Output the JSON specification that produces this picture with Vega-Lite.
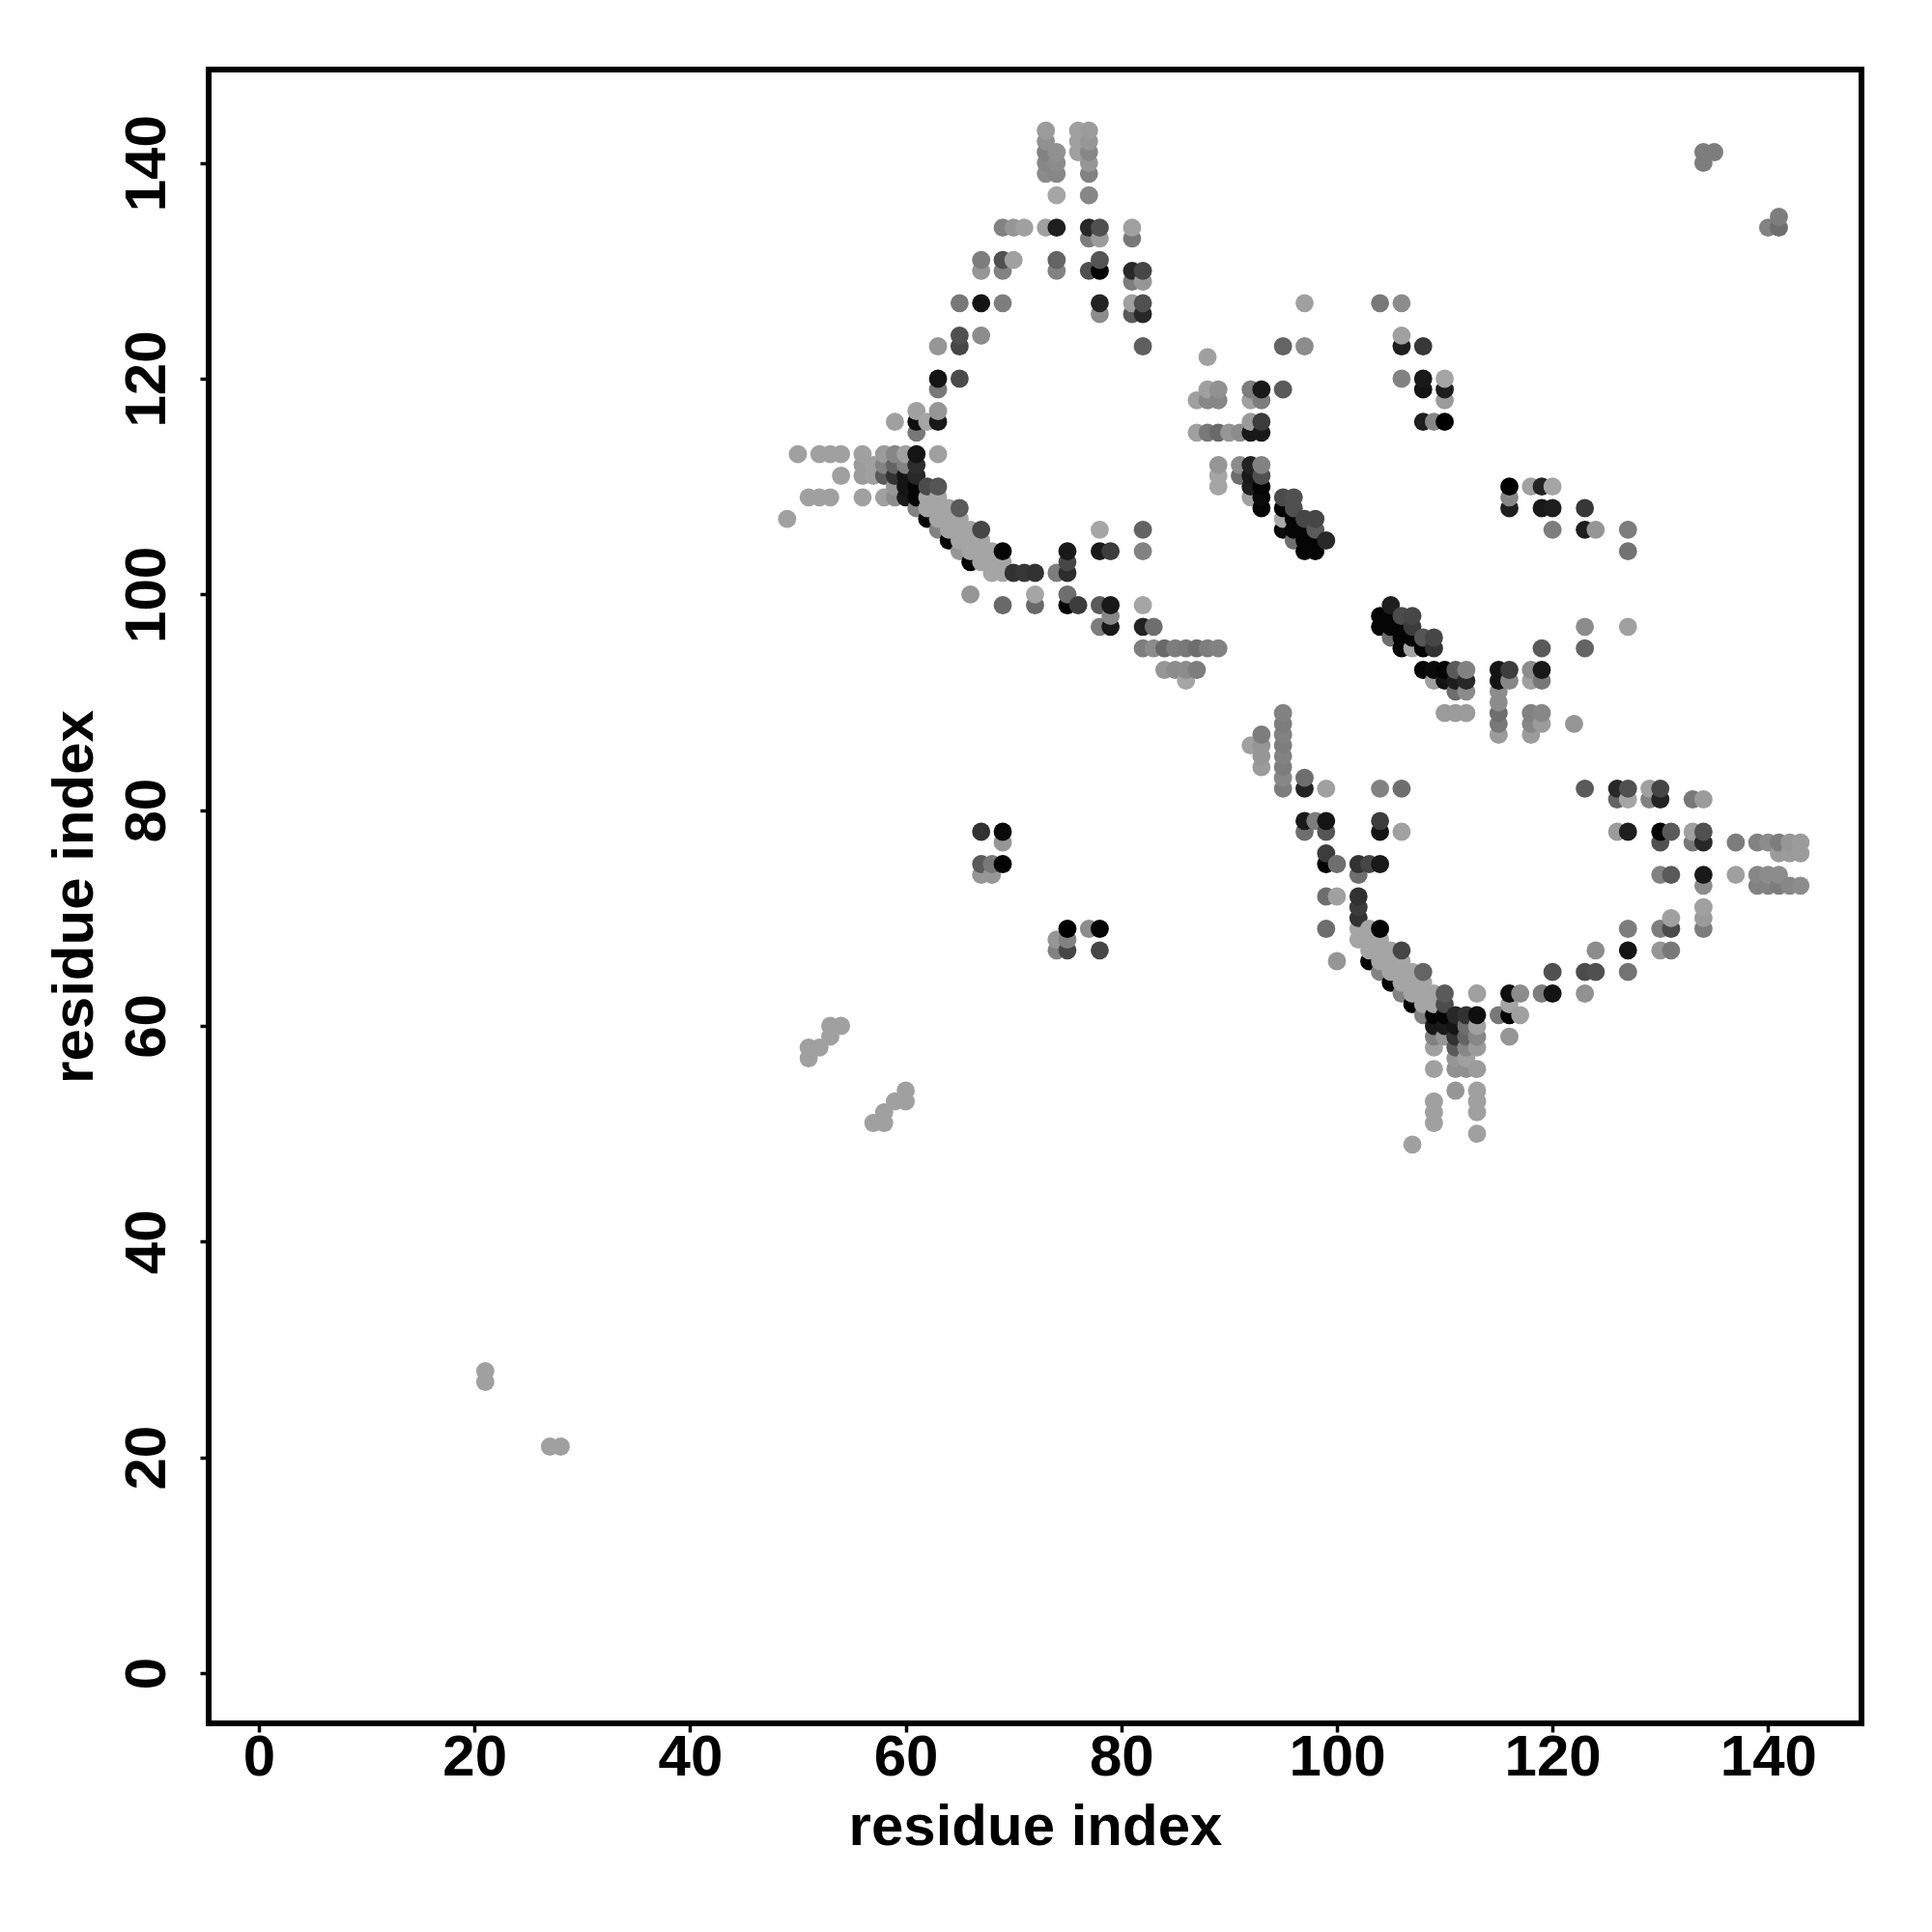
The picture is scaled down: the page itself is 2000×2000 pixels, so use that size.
{"$schema":"https://vega.github.io/schema/vega-lite/v6.json","width":1711,"height":1712,"autosize":{"type":"none"},"padding":{"left":216,"top":72,"right":73,"bottom":216},"background":"white",
"view":{"stroke":"black","strokeWidth":6,"fill":"white"},
"config":{"style":{"cell":{"stroke":"black","strokeWidth":6}}},
"datasets":{"pts":[
{"x":21,"y":27,"g":160},{"x":21,"y":28,"g":160},{"x":27,"y":21,"g":160},{"x":28,"y":21,"g":160},{"x":49,"y":107,"g":160},{"x":50,"y":113,"g":160},
{"x":51,"y":57,"g":160},{"x":51,"y":58,"g":160},{"x":51,"y":109,"g":160},{"x":52,"y":58,"g":160},{"x":52,"y":109,"g":160},{"x":52,"y":113,"g":160},
{"x":53,"y":59,"g":160},{"x":53,"y":60,"g":160},{"x":53,"y":109,"g":160},{"x":53,"y":113,"g":160},{"x":54,"y":60,"g":160},{"x":54,"y":111,"g":160},{"x":54,"y":113,"g":160},
{"x":56,"y":109,"g":160},{"x":56,"y":111,"g":155},{"x":56,"y":112,"g":155},{"x":56,"y":113,"g":160},{"x":57,"y":51,"g":160},{"x":57,"y":111,"g":160},{"x":57,"y":112,"g":160},
{"x":58,"y":51,"g":160},{"x":58,"y":52,"g":160},{"x":58,"y":109,"g":160},{"x":58,"y":111,"g":90},{"x":58,"y":112,"g":130},{"x":58,"y":113,"g":155},
{"x":59,"y":53,"g":160},{"x":59,"y":109,"g":140},{"x":59,"y":110,"g":150},{"x":59,"y":111,"g":50},{"x":59,"y":112,"g":100},{"x":59,"y":113,"g":135},{"x":59,"y":116,"g":160},
{"x":60,"y":53,"g":160},{"x":60,"y":54,"g":160},{"x":60,"y":109,"g":25},{"x":60,"y":110,"g":20},{"x":60,"y":111,"g":20},{"x":60,"y":112,"g":130},{"x":60,"y":113,"g":160},
{"x":61,"y":108,"g":130},{"x":61,"y":109,"g":5},{"x":61,"y":110,"g":5},{"x":61,"y":111,"g":40},{"x":61,"y":112,"g":45},{"x":61,"y":113,"g":20},{"x":61,"y":115,"g":120},{"x":61,"y":116,"g":15},{"x":61,"y":117,"g":160},
{"x":62,"y":107,"g":5},{"x":62,"y":108,"g":165},{"x":62,"y":109,"g":165},{"x":62,"y":110,"g":75},{"x":62,"y":116,"g":165},
{"x":63,"y":106,"g":130},{"x":63,"y":107,"g":165},{"x":63,"y":108,"g":165},{"x":63,"y":109,"g":165},{"x":63,"y":110,"g":85},{"x":63,"y":113,"g":160},{"x":63,"y":116,"g":25},{"x":63,"y":117,"g":150},{"x":63,"y":119,"g":120},{"x":63,"y":120,"g":20},{"x":63,"y":123,"g":150},
{"x":64,"y":105,"g":5},{"x":64,"y":106,"g":165},{"x":64,"y":107,"g":165},{"x":64,"y":108,"g":165},
{"x":65,"y":104,"g":150},{"x":65,"y":105,"g":165},{"x":65,"y":106,"g":165},{"x":65,"y":107,"g":165},{"x":65,"y":108,"g":90},{"x":65,"y":120,"g":75},{"x":65,"y":123,"g":70},{"x":65,"y":124,"g":80},{"x":65,"y":127,"g":120},
{"x":66,"y":100,"g":150},{"x":66,"y":103,"g":5},{"x":66,"y":104,"g":165},{"x":66,"y":105,"g":165},{"x":66,"y":106,"g":165},
{"x":67,"y":74,"g":150},{"x":67,"y":75,"g":90},{"x":67,"y":78,"g":50},{"x":67,"y":103,"g":165},{"x":67,"y":104,"g":165},{"x":67,"y":105,"g":165},{"x":67,"y":106,"g":70},{"x":67,"y":124,"g":140},{"x":67,"y":127,"g":20},{"x":67,"y":130,"g":150},{"x":67,"y":131,"g":125},
{"x":68,"y":74,"g":150},{"x":68,"y":75,"g":120},{"x":68,"y":102,"g":165},{"x":68,"y":103,"g":165},{"x":68,"y":104,"g":165},
{"x":69,"y":75,"g":0},{"x":69,"y":77,"g":150},{"x":69,"y":78,"g":10},{"x":69,"y":99,"g":105},{"x":69,"y":102,"g":165},{"x":69,"y":103,"g":165},{"x":69,"y":104,"g":5},{"x":69,"y":127,"g":125},{"x":69,"y":130,"g":130},{"x":69,"y":131,"g":80},{"x":69,"y":134,"g":130},
{"x":70,"y":102,"g":50},{"x":70,"y":131,"g":160},{"x":70,"y":134,"g":150},{"x":71,"y":102,"g":55},{"x":71,"y":134,"g":160},
{"x":72,"y":99,"g":105},{"x":72,"y":100,"g":165},{"x":72,"y":102,"g":50},
{"x":73,"y":134,"g":160},{"x":73,"y":139,"g":140},{"x":73,"y":140,"g":135},{"x":73,"y":141,"g":130},{"x":73,"y":142,"g":145},{"x":73,"y":143,"g":155},
{"x":74,"y":67,"g":130},{"x":74,"y":68,"g":150},{"x":74,"y":102,"g":125},{"x":74,"y":130,"g":130},{"x":74,"y":131,"g":100},{"x":74,"y":134,"g":30},{"x":74,"y":137,"g":165},{"x":74,"y":139,"g":135},{"x":74,"y":140,"g":140},{"x":74,"y":141,"g":145},
{"x":75,"y":67,"g":70},{"x":75,"y":68,"g":130},{"x":75,"y":69,"g":0},{"x":75,"y":99,"g":5},{"x":75,"y":100,"g":110},{"x":75,"y":102,"g":45},{"x":75,"y":103,"g":70},{"x":75,"y":104,"g":25},
{"x":76,"y":99,"g":60},{"x":76,"y":141,"g":160},{"x":76,"y":142,"g":160},{"x":76,"y":143,"g":160},
{"x":77,"y":69,"g":140},{"x":77,"y":130,"g":80},{"x":77,"y":133,"g":125},{"x":77,"y":134,"g":40},{"x":77,"y":137,"g":135},{"x":77,"y":139,"g":130},{"x":77,"y":140,"g":150},{"x":77,"y":141,"g":135},{"x":77,"y":142,"g":150},{"x":77,"y":143,"g":155},
{"x":78,"y":67,"g":70},{"x":78,"y":69,"g":5},{"x":78,"y":97,"g":125},{"x":78,"y":99,"g":90},{"x":78,"y":104,"g":25},{"x":78,"y":106,"g":165},{"x":78,"y":126,"g":140},{"x":78,"y":127,"g":35},{"x":78,"y":130,"g":5},{"x":78,"y":131,"g":85},{"x":78,"y":133,"g":155},{"x":78,"y":134,"g":80},
{"x":79,"y":97,"g":25},{"x":79,"y":98,"g":135},{"x":79,"y":99,"g":25},{"x":79,"y":104,"g":60},
{"x":81,"y":126,"g":90},{"x":81,"y":127,"g":160},{"x":81,"y":129,"g":125},{"x":81,"y":130,"g":40},{"x":81,"y":133,"g":120},{"x":81,"y":134,"g":160},
{"x":82,"y":95,"g":125},{"x":82,"y":97,"g":35},{"x":82,"y":99,"g":165},{"x":82,"y":104,"g":130},{"x":82,"y":106,"g":100},{"x":82,"y":123,"g":95},{"x":82,"y":126,"g":40},{"x":82,"y":127,"g":80},{"x":82,"y":129,"g":150},{"x":82,"y":130,"g":70},
{"x":83,"y":95,"g":140},{"x":83,"y":97,"g":110},{"x":84,"y":93,"g":150},{"x":84,"y":95,"g":105},{"x":85,"y":93,"g":140},{"x":85,"y":95,"g":125},{"x":86,"y":92,"g":165},{"x":86,"y":93,"g":140},{"x":86,"y":95,"g":120},
{"x":87,"y":93,"g":125},{"x":87,"y":95,"g":110},{"x":87,"y":115,"g":160},{"x":87,"y":118,"g":160},{"x":88,"y":95,"g":125},{"x":88,"y":115,"g":120},{"x":88,"y":118,"g":135},{"x":88,"y":119,"g":160},{"x":88,"y":122,"g":160},
{"x":89,"y":95,"g":130},{"x":89,"y":110,"g":165},{"x":89,"y":111,"g":165},{"x":89,"y":112,"g":150},{"x":89,"y":115,"g":105},{"x":89,"y":118,"g":135},{"x":89,"y":119,"g":145},{"x":90,"y":115,"g":150},{"x":91,"y":111,"g":110},{"x":91,"y":112,"g":140},{"x":91,"y":115,"g":140},
{"x":92,"y":86,"g":160},{"x":92,"y":109,"g":160},{"x":92,"y":110,"g":30},{"x":92,"y":111,"g":25},{"x":92,"y":112,"g":35},{"x":92,"y":115,"g":25},{"x":92,"y":116,"g":155},{"x":92,"y":118,"g":160},{"x":92,"y":119,"g":125},
{"x":93,"y":84,"g":155},{"x":93,"y":85,"g":150},{"x":93,"y":86,"g":150},{"x":93,"y":87,"g":125},{"x":93,"y":108,"g":5},{"x":93,"y":109,"g":10},{"x":93,"y":110,"g":5},{"x":93,"y":111,"g":80},{"x":93,"y":112,"g":130},{"x":93,"y":115,"g":25},{"x":93,"y":116,"g":60},{"x":93,"y":118,"g":125},{"x":93,"y":119,"g":25},
{"x":95,"y":82,"g":125},{"x":95,"y":83,"g":135},{"x":95,"y":84,"g":125},{"x":95,"y":85,"g":130},{"x":95,"y":86,"g":125},{"x":95,"y":87,"g":130},{"x":95,"y":88,"g":125},{"x":95,"y":89,"g":130},{"x":95,"y":106,"g":10},{"x":95,"y":107,"g":170},{"x":95,"y":108,"g":5},{"x":95,"y":109,"g":75},{"x":95,"y":119,"g":90},{"x":95,"y":123,"g":100},
{"x":96,"y":105,"g":110},{"x":96,"y":106,"g":5},{"x":96,"y":107,"g":5},{"x":96,"y":108,"g":80},{"x":96,"y":109,"g":80},
{"x":97,"y":78,"g":110},{"x":97,"y":79,"g":25},{"x":97,"y":82,"g":35},{"x":97,"y":83,"g":110},{"x":97,"y":104,"g":5},{"x":97,"y":105,"g":5},{"x":97,"y":106,"g":5},{"x":97,"y":107,"g":70},{"x":97,"y":123,"g":140},{"x":97,"y":127,"g":160},
{"x":98,"y":79,"g":125},{"x":98,"y":104,"g":5},{"x":98,"y":105,"g":5},{"x":98,"y":106,"g":90},{"x":98,"y":107,"g":70},
{"x":99,"y":69,"g":110},{"x":99,"y":72,"g":110},{"x":99,"y":75,"g":0},{"x":99,"y":76,"g":60},{"x":99,"y":78,"g":85},{"x":99,"y":79,"g":20},{"x":99,"y":82,"g":160},{"x":99,"y":105,"g":40},
{"x":100,"y":66,"g":150},{"x":100,"y":72,"g":160},{"x":100,"y":75,"g":110},
{"x":102,"y":68,"g":165},{"x":102,"y":69,"g":165},{"x":102,"y":70,"g":50},{"x":102,"y":71,"g":60},{"x":102,"y":72,"g":50},{"x":102,"y":74,"g":110},{"x":102,"y":75,"g":50},
{"x":103,"y":66,"g":0},{"x":103,"y":67,"g":165},{"x":103,"y":68,"g":165},{"x":103,"y":69,"g":165},{"x":103,"y":75,"g":70},
{"x":104,"y":65,"g":130},{"x":104,"y":66,"g":165},{"x":104,"y":67,"g":165},{"x":104,"y":68,"g":165},{"x":104,"y":69,"g":5},{"x":104,"y":75,"g":25},{"x":104,"y":78,"g":20},{"x":104,"y":79,"g":60},{"x":104,"y":82,"g":130},{"x":104,"y":97,"g":5},{"x":104,"y":98,"g":5},{"x":104,"y":127,"g":120},
{"x":105,"y":64,"g":0},{"x":105,"y":65,"g":165},{"x":105,"y":66,"g":165},{"x":105,"y":67,"g":165},{"x":105,"y":96,"g":110},{"x":105,"y":97,"g":5},{"x":105,"y":98,"g":5},{"x":105,"y":99,"g":30},
{"x":106,"y":63,"g":130},{"x":106,"y":64,"g":165},{"x":106,"y":65,"g":165},{"x":106,"y":66,"g":165},{"x":106,"y":67,"g":70},{"x":106,"y":78,"g":160},{"x":106,"y":82,"g":110},{"x":106,"y":95,"g":5},{"x":106,"y":96,"g":5},{"x":106,"y":97,"g":5},{"x":106,"y":98,"g":75},{"x":106,"y":120,"g":130},{"x":106,"y":123,"g":30},{"x":106,"y":124,"g":160},{"x":106,"y":127,"g":140},
{"x":107,"y":49,"g":160},{"x":107,"y":62,"g":0},{"x":107,"y":63,"g":165},{"x":107,"y":64,"g":165},{"x":107,"y":65,"g":165},{"x":107,"y":95,"g":165},{"x":107,"y":96,"g":5},{"x":107,"y":97,"g":60},{"x":107,"y":98,"g":70},
{"x":108,"y":61,"g":130},{"x":108,"y":62,"g":165},{"x":108,"y":63,"g":165},{"x":108,"y":64,"g":165},{"x":108,"y":65,"g":100},{"x":108,"y":93,"g":5},{"x":108,"y":95,"g":5},{"x":108,"y":96,"g":85},{"x":108,"y":116,"g":30},{"x":108,"y":119,"g":20},{"x":108,"y":120,"g":25},{"x":108,"y":123,"g":55},
{"x":109,"y":51,"g":160},{"x":109,"y":52,"g":160},{"x":109,"y":53,"g":160},{"x":109,"y":56,"g":160},{"x":109,"y":58,"g":160},{"x":109,"y":59,"g":130},{"x":109,"y":60,"g":25},{"x":109,"y":61,"g":5},{"x":109,"y":62,"g":165},{"x":109,"y":63,"g":165},{"x":109,"y":92,"g":160},{"x":109,"y":93,"g":10},{"x":109,"y":95,"g":50},{"x":109,"y":96,"g":70},{"x":109,"y":116,"g":135},
{"x":110,"y":59,"g":150},{"x":110,"y":60,"g":25},{"x":110,"y":61,"g":5},{"x":110,"y":62,"g":75},{"x":110,"y":63,"g":90},{"x":110,"y":89,"g":155},{"x":110,"y":92,"g":20},{"x":110,"y":93,"g":5},{"x":110,"y":116,"g":0},{"x":110,"y":118,"g":155},{"x":110,"y":119,"g":30},{"x":110,"y":120,"g":165},
{"x":111,"y":54,"g":150},{"x":111,"y":56,"g":145},{"x":111,"y":57,"g":150},{"x":111,"y":58,"g":90},{"x":111,"y":59,"g":50},{"x":111,"y":60,"g":20},{"x":111,"y":61,"g":40},{"x":111,"y":89,"g":155},{"x":111,"y":91,"g":110},{"x":111,"y":92,"g":30},{"x":111,"y":93,"g":90},
{"x":112,"y":56,"g":145},{"x":112,"y":57,"g":160},{"x":112,"y":58,"g":135},{"x":112,"y":59,"g":100},{"x":112,"y":60,"g":110},{"x":112,"y":61,"g":50},{"x":112,"y":89,"g":155},{"x":112,"y":91,"g":140},{"x":112,"y":92,"g":40},{"x":112,"y":93,"g":130},
{"x":113,"y":50,"g":160},{"x":113,"y":52,"g":160},{"x":113,"y":53,"g":160},{"x":113,"y":54,"g":160},{"x":113,"y":56,"g":155},{"x":113,"y":58,"g":155},{"x":113,"y":59,"g":135},{"x":113,"y":60,"g":160},{"x":113,"y":61,"g":15},{"x":113,"y":63,"g":160},
{"x":115,"y":61,"g":120},{"x":115,"y":87,"g":155},{"x":115,"y":88,"g":120},{"x":115,"y":89,"g":110},{"x":115,"y":90,"g":140},{"x":115,"y":91,"g":140},{"x":115,"y":92,"g":20},{"x":115,"y":93,"g":20},
{"x":116,"y":59,"g":150},{"x":116,"y":61,"g":5},{"x":116,"y":62,"g":165},{"x":116,"y":63,"g":15},{"x":116,"y":92,"g":135},{"x":116,"y":93,"g":60},{"x":116,"y":108,"g":30},{"x":116,"y":109,"g":135},{"x":116,"y":110,"g":0},
{"x":117,"y":61,"g":160},{"x":117,"y":63,"g":140},
{"x":118,"y":87,"g":155},{"x":118,"y":88,"g":135},{"x":118,"y":89,"g":130},{"x":118,"y":92,"g":160},{"x":118,"y":93,"g":140},{"x":118,"y":110,"g":160},
{"x":119,"y":63,"g":125},{"x":119,"y":88,"g":155},{"x":119,"y":89,"g":135},{"x":119,"y":92,"g":120},{"x":119,"y":93,"g":25},{"x":119,"y":95,"g":90},{"x":119,"y":108,"g":25},{"x":119,"y":110,"g":35},
{"x":120,"y":63,"g":20},{"x":120,"y":65,"g":80},{"x":120,"y":106,"g":125},{"x":120,"y":108,"g":30},{"x":120,"y":110,"g":165},{"x":122,"y":88,"g":150},
{"x":123,"y":63,"g":145},{"x":123,"y":65,"g":75},{"x":123,"y":82,"g":90},{"x":123,"y":95,"g":100},{"x":123,"y":97,"g":140},{"x":123,"y":106,"g":30},{"x":123,"y":108,"g":55},
{"x":124,"y":65,"g":80},{"x":124,"y":67,"g":140},{"x":124,"y":106,"g":150},
{"x":126,"y":78,"g":155},{"x":126,"y":81,"g":100},{"x":126,"y":82,"g":40},
{"x":127,"y":65,"g":115},{"x":127,"y":67,"g":20},{"x":127,"y":69,"g":125},{"x":127,"y":78,"g":30},{"x":127,"y":81,"g":165},{"x":127,"y":82,"g":80},{"x":127,"y":97,"g":160},{"x":127,"y":104,"g":115},{"x":127,"y":106,"g":125},
{"x":129,"y":81,"g":130},{"x":129,"y":82,"g":160},
{"x":130,"y":67,"g":150},{"x":130,"y":69,"g":125},{"x":130,"y":74,"g":130},{"x":130,"y":77,"g":80},{"x":130,"y":78,"g":5},{"x":130,"y":81,"g":35},{"x":130,"y":82,"g":70},
{"x":131,"y":67,"g":120},{"x":131,"y":69,"g":75},{"x":131,"y":70,"g":160},{"x":131,"y":74,"g":90},{"x":131,"y":78,"g":90},
{"x":133,"y":77,"g":120},{"x":133,"y":78,"g":160},{"x":133,"y":81,"g":120},
{"x":134,"y":69,"g":125},{"x":134,"y":70,"g":155},{"x":134,"y":71,"g":160},{"x":134,"y":73,"g":140},{"x":134,"y":74,"g":25},{"x":134,"y":77,"g":40},{"x":134,"y":78,"g":80},{"x":134,"y":81,"g":155},{"x":134,"y":140,"g":125},{"x":134,"y":141,"g":125},{"x":135,"y":141,"g":125},
{"x":137,"y":74,"g":160},{"x":137,"y":77,"g":125},
{"x":139,"y":73,"g":130},{"x":139,"y":74,"g":135},{"x":139,"y":77,"g":130},
{"x":140,"y":73,"g":130},{"x":140,"y":74,"g":140},{"x":140,"y":77,"g":140},{"x":140,"y":134,"g":130},
{"x":141,"y":73,"g":125},{"x":141,"y":74,"g":140},{"x":141,"y":76,"g":155},{"x":141,"y":77,"g":125},{"x":141,"y":134,"g":110},{"x":141,"y":135,"g":125},
{"x":142,"y":73,"g":135},{"x":142,"y":76,"g":155},{"x":142,"y":77,"g":150},
{"x":143,"y":73,"g":140},{"x":143,"y":76,"g":155},{"x":143,"y":77,"g":155}
]},
"data":{"name":"pts"},
"mark":{"type":"circle","size":355,"opacity":1},
"encoding":{
"x":{"field":"x","type":"quantitative","scale":{"domain":[-4.66,148.66],"nice":false,"zero":false},"axis":{"title":"residue index","values":[0,20,40,60,80,100,120,140],"grid":false,"domain":true,"domainWidth":5,"domainColor":"black","ticks":true,"tickSize":9,"tickWidth":3.5,"tickColor":"black","labelFont":"Liberation Sans","labelFontWeight":"bold","labelFontSize":60,"labelColor":"black","labelPadding":-3,"labelBaseline":"top","labelAngle":0,"labelOverlap":false,"labelFlush":false,"titleFont":"Liberation Sans","titleFontWeight":"bold","titleFontSize":60,"titleColor":"black","titlePadding":13}},
"y":{"field":"y","type":"quantitative","scale":{"domain":[-4.66,148.66],"nice":false,"zero":false},"axis":{"title":"residue index","values":[0,20,40,60,80,100,120,140],"grid":false,"domain":true,"domainWidth":5,"domainColor":"black","ticks":true,"tickSize":9,"tickWidth":3.5,"tickColor":"black","labelFont":"Liberation Sans","labelFontWeight":"bold","labelFontSize":60,"labelColor":"black","labelPadding":24,"labelAngle":-90,"labelAlign":"center","labelBaseline":"bottom","labelOverlap":false,"labelFlush":false,"titleFont":"Liberation Sans","titleFontWeight":"bold","titleFontSize":60,"titleColor":"black","titlePadding":14}},
"color":{"field":"g","type":"quantitative","scale":{"type":"linear","domain":[0,255],"range":["#000000","#ffffff"],"interpolate":"rgb"},"legend":null}
}}
